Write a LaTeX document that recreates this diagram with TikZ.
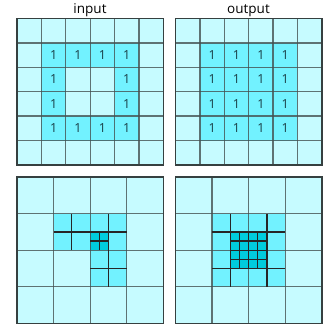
\documentclass[tikz,border=0pt]{standalone}
\usepackage{fontspec}
\setmainfont{Open Sans}
\definecolor{lightc}{HTML}{C6FBFF}
\definecolor{medc}{HTML}{72F2FF}
\definecolor{darkc}{HTML}{00CCDD}
\definecolor{gridc}{HTML}{445050}
\definecolor{numc}{HTML}{183C44}
\tikzset{
  gridline/.style={draw=gridc, line width=1.3pt, draw opacity=0.8},
  fineline/.style={draw=black!85, line width=1.2pt},
  border/.style={draw=gridc!80!black, line width=1.3pt},
  numlabel/.style={text=numc, font=\fontsize{12.5}{13}\selectfont, inner sep=0pt},
  title/.style={text=black, font=\fontsize{13.5}{14}\selectfont, inner sep=0pt}
}
\begin{document}
\begin{tikzpicture}[x=1pt,y=-1pt]
\useasboundingbox (0,0) rectangle (323,325);
\def\S{146.4}
\def\c{24.4}
\def\q{36.6}
% ---------- titles
\node[title, anchor=base] (tin) at (90,13) {input};
\node[title, anchor=base] (tout) at (248.5,13) {output};
% ---------- top-left grid
\begin{scope}[shift={(17,18.5)}]
  \fill[lightc] (0,0) rectangle (\S,\S);
  \foreach \i in {1,...,4}{
    \fill[medc] (\i*\c,\c) rectangle ++(\c,\c);
    \fill[medc] (\i*\c,4*\c) rectangle ++(\c,\c);
    \fill[medc] (\c,\i*\c) rectangle ++(\c,\c);
    \fill[medc] (4*\c,\i*\c) rectangle ++(\c,\c);
  }
  \foreach \k in {1,...,5}{
    \draw[gridline] (\k*\c,0) -- (\k*\c,\S);
    \draw[gridline] (0,\k*\c) -- (\S,\k*\c);
  }
  \draw[border] (0,0) rectangle (\S,\S);
  \foreach \i in {1,...,4}{
    \node[numlabel] (ina\i) at (\i*\c+0.5*\c,1.5*\c) {1};
    \node[numlabel] (inb\i) at (\i*\c+0.5*\c,4.5*\c) {1};
  }
  \foreach \j in {2,3}{
    \node[numlabel] (inl\j) at (1.5*\c,\j*\c+0.5*\c) {1};
    \node[numlabel] (inr\j) at (4.5*\c,\j*\c+0.5*\c) {1};
  }
\end{scope}
% ---------- top-right grid
\begin{scope}[shift={(175.5,18.5)}]
  \fill[lightc] (0,0) rectangle (\S,\S);
  \fill[medc] (\c,\c) rectangle (5*\c,5*\c);
  \foreach \k in {1,...,5}{
    \draw[gridline] (\k*\c,0) -- (\k*\c,\S);
    \draw[gridline] (0,\k*\c) -- (\S,\k*\c);
  }
  \draw[border] (0,0) rectangle (\S,\S);
  \foreach \i in {1,...,4}{
    \foreach \j in {1,...,4}{
      \node[numlabel] (out\i\j) at (\i*\c+0.5*\c,\j*\c+0.5*\c) {1};
    }
  }
\end{scope}
% ---------- bottom-left quadtree
\begin{scope}[shift={(17,177)}]
  \fill[lightc] (0,0) rectangle (\S,\S);
  \fill[medc] (\q,\q) rectangle (3*\q,2*\q);
  \fill[medc] (2*\q,2*\q) rectangle (3*\q,3*\q);
  \fill[darkc] (2*\q,1.5*\q) rectangle (2.5*\q,2*\q);
  \foreach \k in {1,2,3}{
    \draw[gridline] (\k*\q,0) -- (\k*\q,\S);
    \draw[gridline] (0,\k*\q) -- (\S,\k*\q);
  }
  \draw[fineline] (\q,1.5*\q) -- (3*\q,1.5*\q);
  \draw[fineline] (1.5*\q,\q) -- (1.5*\q,2*\q);
  \draw[fineline] (2.5*\q,\q) -- (2.5*\q,3*\q);
  \draw[fineline] (2*\q,2.5*\q) -- (3*\q,2.5*\q);
  \draw[fineline] (2.25*\q,1.5*\q) -- (2.25*\q,2*\q);
  \draw[fineline] (2*\q,1.75*\q) -- (2.5*\q,1.75*\q);
  \draw[border] (0,0) rectangle (\S,\S);
\end{scope}
% ---------- bottom-right quadtree
\begin{scope}[shift={(175.5,177)}]
  \fill[lightc] (0,0) rectangle (\S,\S);
  \fill[medc] (\q,\q) rectangle (3*\q,3*\q);
  \fill[darkc] (1.5*\q,1.5*\q) rectangle (2.5*\q,2.5*\q);
  \foreach \k in {1,2,3}{
    \draw[gridline] (\k*\q,0) -- (\k*\q,\S);
    \draw[gridline] (0,\k*\q) -- (\S,\k*\q);
  }
  \foreach \t in {1.5,2.5}{
    \draw[fineline] (\t*\q,\q) -- (\t*\q,3*\q);
    \draw[fineline] (\q,\t*\q) -- (3*\q,\t*\q);
  }
  \foreach \t in {1.75,2,2.25}{
    \draw[fineline] (\t*\q,1.5*\q) -- (\t*\q,2.5*\q);
    \draw[fineline] (1.5*\q,\t*\q) -- (2.5*\q,\t*\q);
  }
  \draw[border] (0,0) rectangle (\S,\S);
\end{scope}
\end{tikzpicture}
\end{document}
